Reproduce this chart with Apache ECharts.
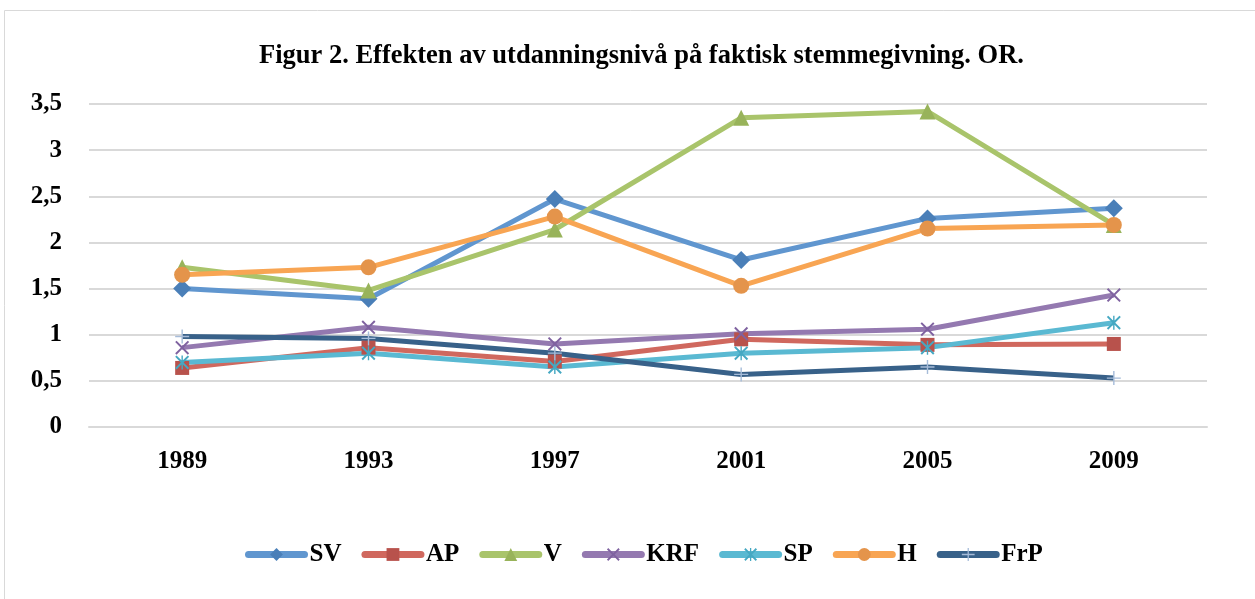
<!DOCTYPE html>
<html>
<head>
<meta charset="utf-8">
<script src="https://cdn.jsdelivr.net/npm/echarts@6/dist/echarts.min.js"></script>
<style>
html, body { margin: 0; padding: 0; background: #fff; }
#chart { width: 1255px; height: 599px; }
</style>
</head>
<body>
<div id="chart"></div>
<script>
"use strict";

/*****Data*****/
var years = ['1989', '1993', '1997', '2001', '2005', '2009'];
var sv  = [1.50, 1.39, 2.47, 1.81, 2.26, 2.37];
var ap  = [0.64, 0.86, 0.71, 0.95, 0.89, 0.90];
var v   = [1.73, 1.48, 2.14, 3.35, 3.42, 2.19];
var krf = [0.86, 1.08, 0.90, 1.01, 1.06, 1.43];
var sp  = [0.70, 0.80, 0.65, 0.80, 0.86, 1.13];
var h   = [1.65, 1.73, 2.28, 1.53, 2.15, 2.19];
var frp = [0.98, 0.96, 0.80, 0.57, 0.65, 0.53];

/*****Symbols*****/
var xMark = 'path://M0,2 L2,0 L10,8 L18,0 L20,2 L12,10 L20,18 L18,20 L10,12 L2,20 L0,18 L8,10 Z';
var starMark = 'path://M0,2 L2,0 L10,8 L18,0 L20,2 L12,10 L20,18 L18,20 L10,12 L2,20 L0,18 L8,10 Z M9,0 L11,0 L11,20 L9,20 Z';
var plusMark = 'path://M9,0 L11,0 L11,9 L20,9 L20,11 L11,11 L11,20 L9,20 L9,11 L0,11 L0,9 L9,9 Z';

var font = "'Liberation Serif', 'Times New Roman', serif";

function makeSeries(name, data, lineColor, markColor, symbol, size) {
	return {
		name: name,
		type: 'line',
		data: data,
		symbol: symbol,
		symbolSize: size,
		lineStyle: { color: lineColor, width: 5 },
		itemStyle: { color: markColor },
		color: lineColor,
		emphasis: { disabled: true }
	};
}

var chart = echarts.init(document.getElementById('chart'));
var option = {
	animation: false,
	title: {
		text: 'Figur 2. Effekten av utdanningsnivå på faktisk stemmegivning. OR.',
		left: 254,
		top: 38,
		textStyle: { fontFamily: font, fontWeight: 'bold', fontSize: 26.5, color: '#000' }
	},
	graphic: [{
		type: 'rect',
		shape: { x: 4.5, y: 10.5, width: 1270, height: 620 },
		style: { fill: 'none', stroke: '#d9d9d9', lineWidth: 1 },
		silent: true
	}],
	legend: {
		top: 537,
		left: 240,
		itemWidth: 56,
		itemHeight: 16,
		itemGap: 20,
		lineStyle: { width: 7, cap: 'round' },
		textStyle: { fontFamily: font, fontWeight: 'bold', fontSize: 25, color: '#000' },
		data: ['SV', 'AP', 'V', 'KRF', 'SP', 'H', 'FrP']
	},
	grid: { left: 89, right: 48, top: 104, bottom: 172 },
	xAxis: {
		type: 'category',
		data: years,
		boundaryGap: true,
		axisLine: { show: true, lineStyle: { color: '#d9d9d9', width: 2 } },
		axisTick: { show: false },
		axisLabel: { margin: 22, fontFamily: font, fontWeight: 'bold', fontSize: 25, color: '#000' }
	},
	yAxis: {
		type: 'value',
		min: 0,
		max: 3.5,
		interval: 0.5,
		axisLine: { show: false },
		axisTick: { show: false },
		splitLine: { lineStyle: { color: '#d9d9d9', width: 2 } },
		axisLabel: {
			margin: 27,
			fontFamily: font, fontWeight: 'bold', fontSize: 25, color: '#000',
			formatter: function (val) { return String(val).replace('.', ','); }
		}
	},
	series: [
		makeSeries('SV', sv, '#6096cf', '#4a7fb8', 'diamond', 18),
		makeSeries('AP', ap, '#d0685e', '#b8524c', 'rect', 14),
		makeSeries('V', v, '#a9c46b', '#98b35a', 'triangle', 16),
		makeSeries('KRF', krf, '#9479b0', '#7f62a0', xMark, 14),
		makeSeries('SP', sp, '#5ab9d2', '#45a8c2', starMark, 14),
		makeSeries('H', h, '#f8a553', '#e4944b', 'circle', 16),
		makeSeries('FrP', frp, '#386189', '#a6bcd9', plusMark, 14)
	]
};
chart.setOption(option);
</script>
</body>
</html>
